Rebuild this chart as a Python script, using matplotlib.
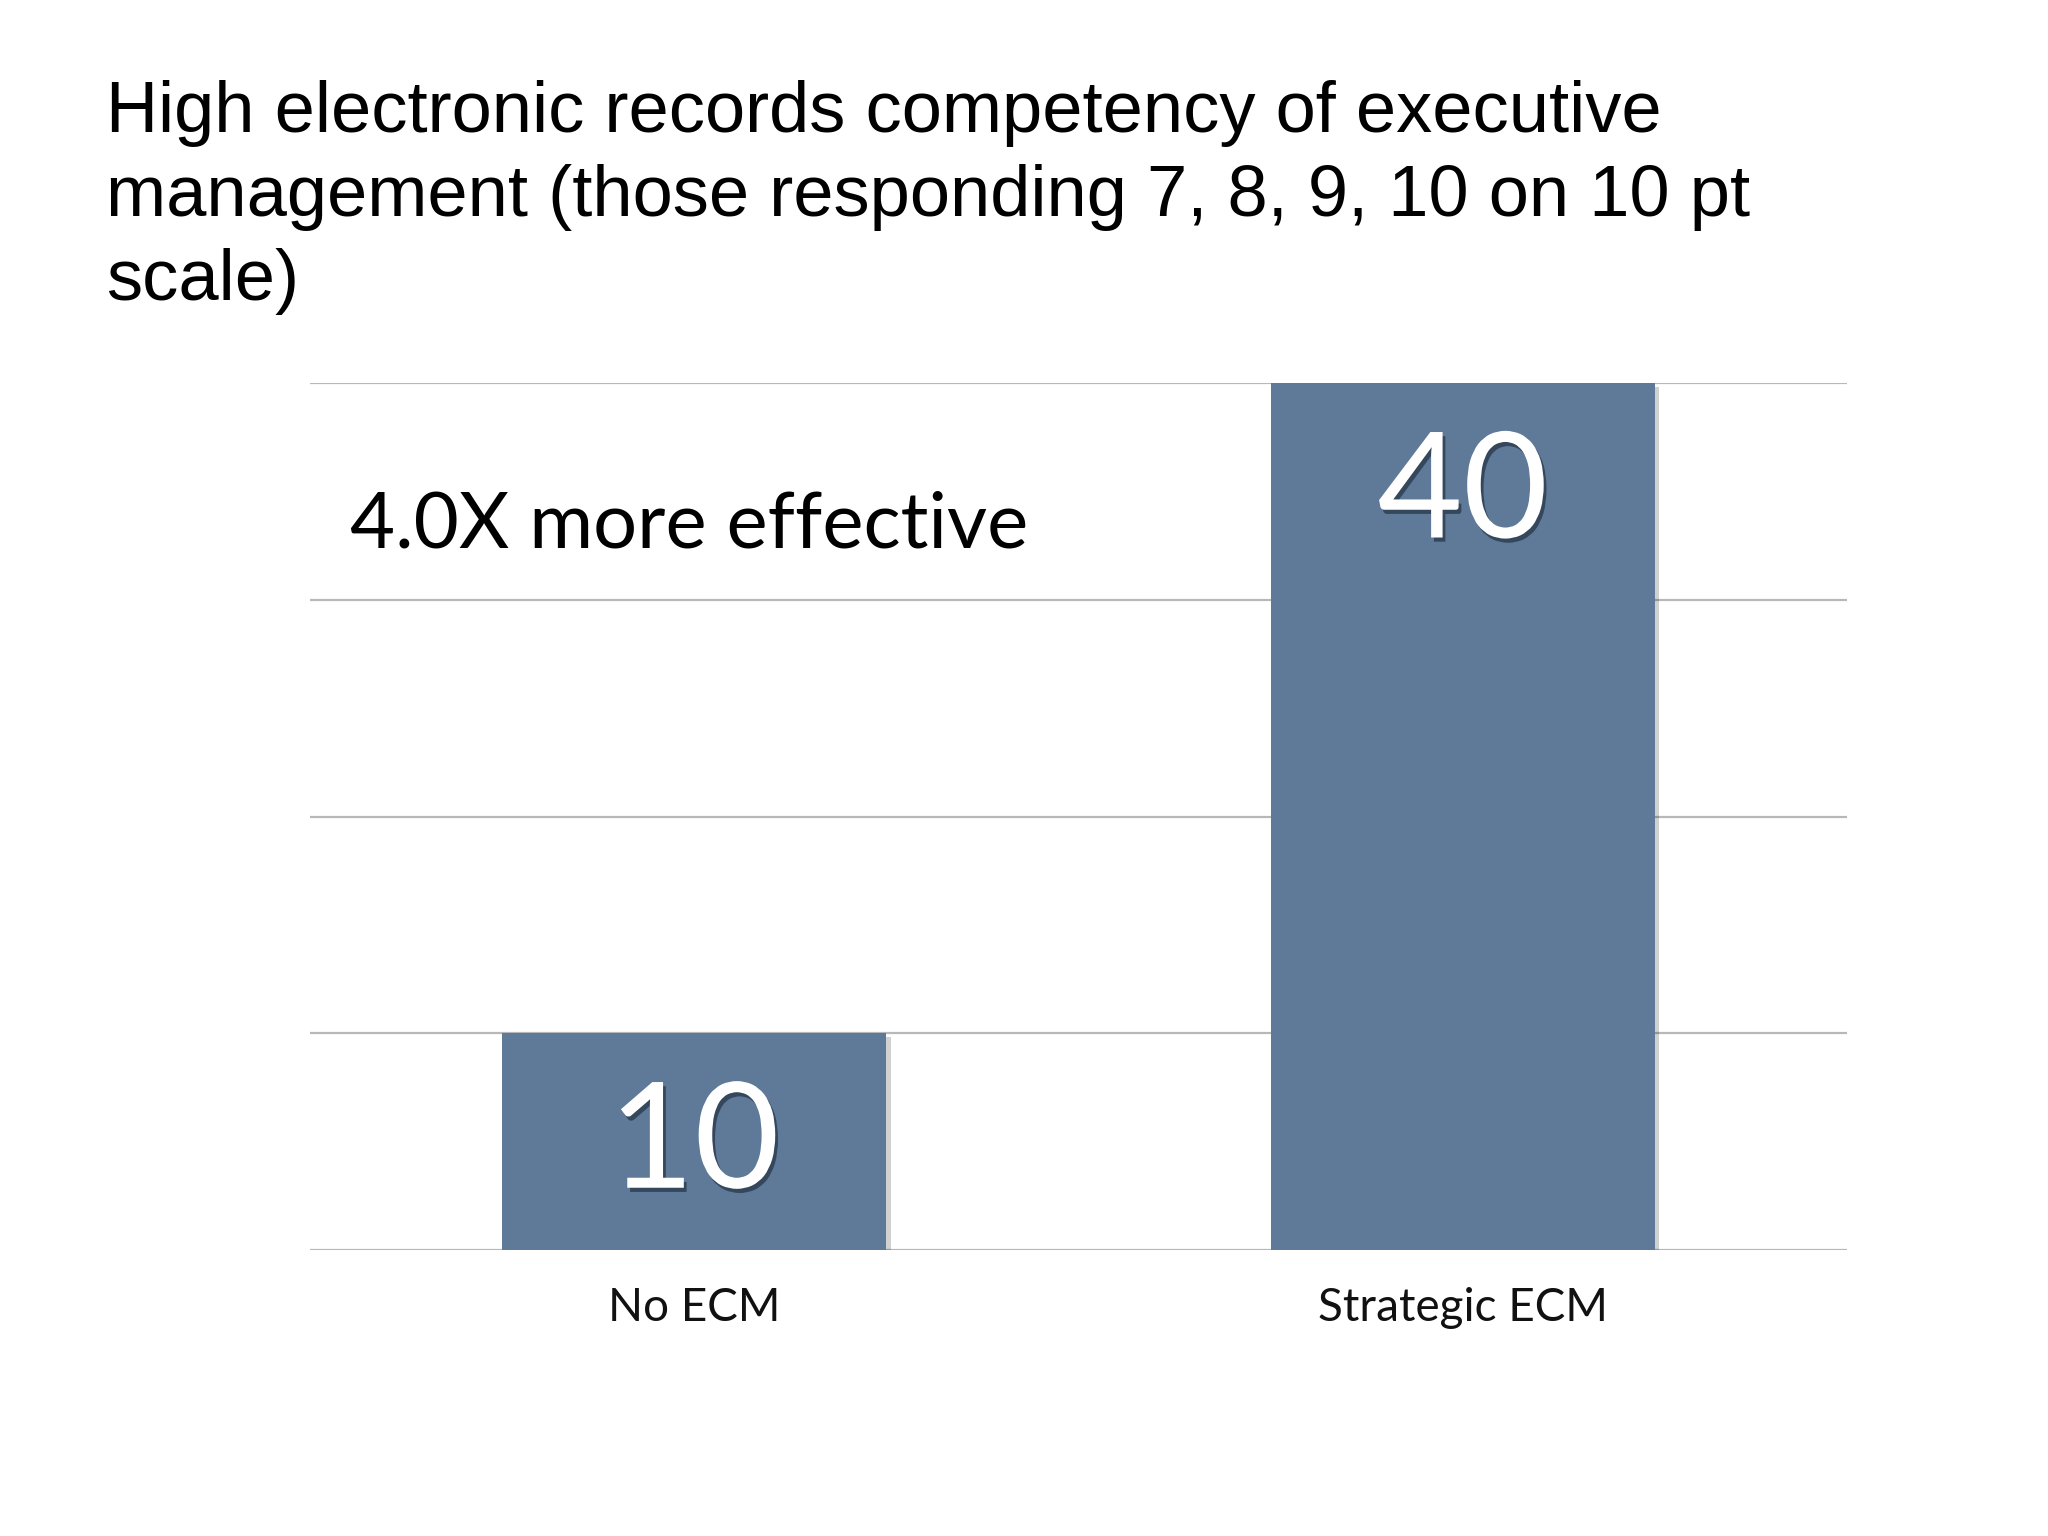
import matplotlib
matplotlib.use("Agg")
import matplotlib.pyplot as plt
import matplotlib.patheffects as pe

# Data
categories = ["No ECM", "Strategic ECM"]
values = [10, 40]
yticks = [0, 10, 20, 30, 40]
title = ("High electronic records competency of executive\n"
         "management (those responding 7, 8, 9, 10 on 10 pt\n"
         "scale)")
note = "4.0X more effective"

bar_color = "#5f7a98"
grid_color = "#b8b8b8"

fig = plt.figure(figsize=(20.48, 15.36), dpi=100)
fig.patch.set_facecolor("white")
ax = fig.add_axes([310 / 2048, 1 - 1250 / 1536, 1537 / 2048, 867 / 1536])

x = list(range(len(categories)))
bars = ax.bar(x, values, width=0.5, color=bar_color, zorder=3)
for b in bars:
    b.set_path_effects([pe.SimplePatchShadow(offset=(3, -3), shadow_rgbFace="#000000", alpha=0.18),
                        pe.Normal()])

ax.set_xlim(-0.5, 1.5)
ax.set_ylim(0, 40)
ax.set_yticks(yticks)
ax.yaxis.grid(True, color=grid_color, linewidth=1.6, zorder=0)
ax.set_axisbelow(True)
ax.tick_params(axis="y", left=False, labelleft=False)
ax.tick_params(axis="x", bottom=False, pad=23)
ax.set_xticks(x)
ax.set_xticklabels(categories, fontsize=33, family=["Lato", "DejaVu Sans"], color="#111111")
for s in ax.spines.values():
    s.set_visible(False)

for xi, v in zip(x, values):
    ax.annotate(str(v), xy=(xi, v), xytext=(0, -81), textcoords="offset points",
                ha="center", va="center", fontsize=106, color="white",
                family=["Lato", "DejaVu Sans"], zorder=5,
                path_effects=[pe.withSimplePatchShadow(offset=(2, -3), shadow_rgbFace="#1a2635", alpha=0.6)])

fig.text(106 / 2048, 1 - 80 / 1536, title, ha="left", va="top", fontsize=52,
         family=["Liberation Sans", "DejaVu Sans"], color="#000000", linespacing=1.33)

fig.text(350 / 2048, 1 - 548 / 1536, note, ha="left", va="baseline", fontsize=56,
         family=["Lato", "DejaVu Sans"], color="#000000")

fig.savefig("out.png", dpi=100, facecolor="white")
